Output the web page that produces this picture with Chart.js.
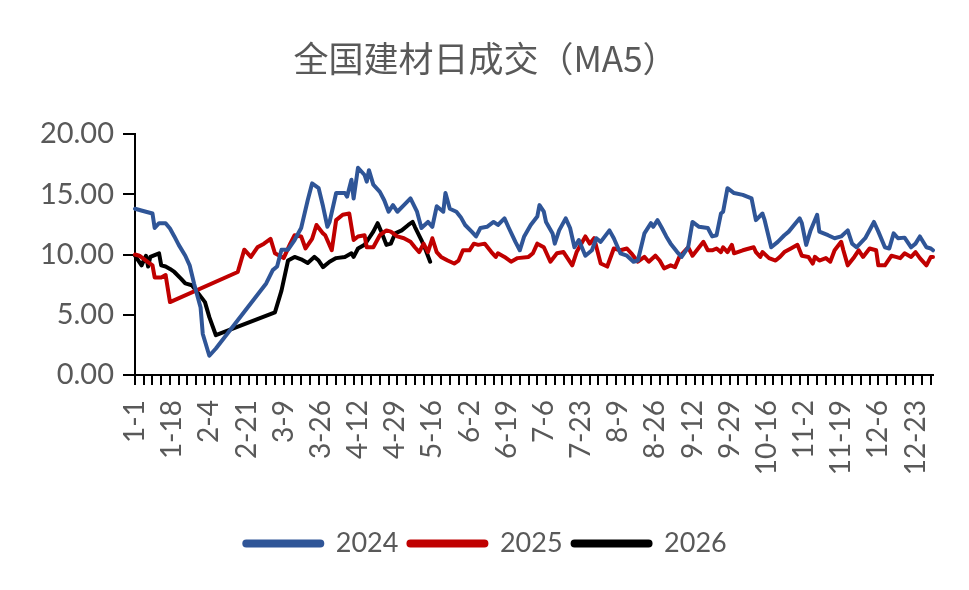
<!DOCTYPE html>
<html>
<head>
<meta charset="utf-8">
<script src="https://cdn.jsdelivr.net/npm/chart.js@4.4.1/dist/chart.umd.min.js"></script>
<style>
  html, body { margin: 0; padding: 0; background: #fff; }
  #wrap { width: 969px; height: 590px; }
</style>
</head>
<body>
<div id="wrap"><canvas id="chart"></canvas></div>
<script>
// categories: every calendar day (leap year), shown as M-D
const monthDays = [31, 29, 31, 30, 31, 30, 31, 31, 30, 31, 30, 31];
const dayLabels = [];
monthDays.forEach((n, m) => {
  for (let d = 1; d <= n; d++) dayLabels.push((m + 1) + '-' + d);
});

const yTicks = [0, 5, 10, 15, 20];

// day index (0 = 1-1) and MA5 value
const days2024 = [0, 5, 8, 9, 11, 14, 16, 18, 20, 23, 25, 27, 30, 31, 34, 37, 60, 63, 65, 67, 70, 73, 76,
  79, 81, 84, 86, 88, 89, 92, 96, 97, 99, 100, 102, 105, 106, 107, 109, 112, 114, 116, 118, 120, 123, 126,
  129, 131, 134, 136, 138, 141, 142, 144, 147, 149, 151, 154, 156, 158, 161, 164, 166, 169, 171, 174, 176,
  178, 181, 184, 185, 187, 188, 191, 192, 194, 197, 199, 201, 203, 206, 209, 211, 213, 217, 219, 222, 225,
  228, 230, 233, 236, 237, 239, 241, 243, 245, 248, 250, 253, 255, 258, 262, 264, 266, 268, 269, 271, 274,
  278, 282, 284, 287, 288, 291, 294, 297, 299, 304, 305, 307, 309, 312, 313, 317, 320, 323, 326, 328, 330,
  334, 338, 340, 343, 345, 347, 349, 352, 355, 357, 359, 362, 364, 365];
const vals2024 = [13.8, 13.55, 13.4, 12.2, 12.6, 12.6, 12.15, 11.5, 10.8, 9.9, 9.1, 7.6, 5.6, 3.4, 1.6, 2.2, 7.6, 8.7, 9.0, 10.4, 10.4, 11.2, 12.2,
  14.5, 15.9, 15.5, 14.0, 12.3, 12.7, 15.1, 15.1, 14.8, 16.2, 14.65, 17.2, 16.6, 16.05, 17.0, 15.8, 15.2, 14.5, 13.55, 14.1, 13.55, 14.1, 14.65,
  13.55, 12.2, 12.7, 12.3, 14.0, 13.55, 15.1, 13.8, 13.55, 13.1, 12.45, 11.9, 11.5, 12.2, 12.3, 12.7, 12.45, 13.0, 12.2, 11.05, 10.35,
  11.5, 12.45, 13.15, 14.1, 13.55, 12.7, 11.75, 10.9, 12.0, 13.0, 12.2, 10.6, 11.2, 9.9, 10.35, 11.35, 11.05, 12.0, 11.35, 10.1, 9.9,
  9.4, 9.5, 11.75, 12.6, 12.3, 12.85, 12.2, 11.5, 10.9, 10.2, 9.8, 10.6, 12.7, 12.3, 12.2, 11.5, 11.6, 13.4, 13.55, 15.5, 15.1,
  14.95, 14.65, 12.85, 13.4, 12.85, 10.6, 11.05, 11.6, 11.9, 13.0, 12.6, 10.8, 12.0, 13.3, 11.9, 11.6, 11.35, 11.5, 12.0, 10.9, 10.6,
  11.35, 12.7, 11.9, 10.6, 10.5, 11.75, 11.35, 11.4, 10.6, 10.9, 11.5, 10.6, 10.5, 10.35];

const days2025 = [0, 2, 5, 8, 9, 12, 14, 16, 47, 50, 53, 56, 59, 62, 64, 68, 71, 73, 76, 78, 81, 83, 86, 87,
  90, 92, 95, 98, 100, 102, 105, 106, 109, 112, 115, 117, 120, 123, 126, 128, 130, 132, 134, 136, 138, 140,
  143, 146, 148, 150, 153, 155, 157, 160, 163, 165, 166, 169, 172, 175, 180, 182, 184, 187, 190, 193, 196,
  200, 202, 206, 208, 210, 213, 216, 219, 222, 225, 227, 230, 233, 235, 238, 240, 242, 245, 247, 249, 253,
  255, 260, 262, 264, 266, 268, 269, 271, 273, 274, 278, 283, 284, 286, 287, 290, 293, 295, 297, 300, 303,
  305, 308, 310, 311, 313, 316, 318, 320, 323, 324, 326, 329, 331, 333, 336, 339, 340, 343, 346, 348, 350,
  352, 355, 357, 359, 362, 364, 365];
const vals2025 = [10.0, 9.9, 9.5, 9.1, 8.1, 8.1, 8.3, 6.05, 8.55, 10.4, 9.8, 10.6, 10.9, 11.3, 10.1, 9.7, 10.9, 11.6, 11.5, 10.5, 11.3, 12.45, 11.75, 11.6,
  10.35, 12.85, 13.3, 13.4, 11.2, 11.5, 11.6, 10.6, 10.6, 11.6, 12.0, 11.9, 11.5, 11.35, 11.05, 10.6, 10.2, 10.9, 10.2, 11.35, 10.2, 9.8,
  9.5, 9.25, 9.5, 10.35, 10.35, 10.9, 10.8, 10.9, 10.2, 9.8, 10.1, 9.8, 9.4, 9.7, 9.8, 10.1, 10.9, 10.6, 9.4, 10.1, 10.2,
  9.1, 10.2, 11.5, 10.9, 11.35, 9.25, 9.0, 10.5, 10.35, 10.5, 10.1, 9.4, 9.8, 9.4, 9.9, 9.5, 8.85, 9.1, 8.95, 9.8, 10.6,
  9.9, 11.05, 10.35, 10.35, 10.5, 10.2, 10.6, 10.2, 10.8, 10.1, 10.35, 10.6, 10.2, 9.8, 10.2, 9.7, 9.5, 9.8, 10.2, 10.5, 10.8,
  9.9, 9.8, 9.25, 9.8, 9.5, 9.7, 9.4, 10.35, 11.05, 10.35, 9.1, 9.8, 10.35, 9.8, 10.5, 10.35, 9.1, 9.1, 9.9, 9.8, 9.7,
  10.1, 9.8, 10.2, 9.7, 9.1, 9.8, 9.8];

const days2026 = [0, 3, 5, 6, 7, 11, 12, 14, 16, 18, 21, 23, 26, 28, 32, 34, 37, 64, 67, 70, 73, 76, 79, 82,
  84, 86, 89, 92, 96, 99, 100, 102, 105, 107, 109, 111, 113, 115, 117, 119, 122, 125, 127, 128, 131, 133, 135];
const vals2026 = [9.9, 9.1, 9.9, 9.0, 9.8, 10.1, 9.1, 9.0, 8.8, 8.55, 8.0, 7.6, 7.45, 7.0, 6.05, 4.8, 3.3, 5.2, 7.0, 9.5, 9.8, 9.6, 9.3, 9.8,
  9.5, 8.95, 9.4, 9.7, 9.8, 10.1, 9.8, 10.5, 10.8, 11.35, 11.9, 12.6, 11.75, 10.8, 10.9, 11.75, 12.0, 12.45, 12.7, 12.3, 11.2, 10.35, 9.4];

function toSeries(days, vals) {
  const arr = new Array(dayLabels.length).fill(null);
  days.forEach((d, i) => { arr[d] = vals[i]; });
  return arr;
}

const textColor = '#595959';

function lineSet(label, days, vals, color) {
  return {
    label: label,
    data: toSeries(days, vals),
    borderColor: color,
    backgroundColor: color,
    borderWidth: 4,
    pointRadius: 0,
    tension: 0,
    spanGaps: true,
    borderJoinStyle: 'round',
    borderCapStyle: 'round'
  };
}

new Chart(document.getElementById('chart'), {
  type: 'line',
  data: {
    labels: dayLabels,
    datasets: [
      lineSet('2024', days2024, vals2024, '#2F5597'),
      lineSet('2025', days2025, vals2025, '#C00000'),
      lineSet('2026', days2026, vals2026, '#000000')
    ]
  },
  options: {
    responsive: true,
    maintainAspectRatio: false,
    animation: false,
    layout: { padding: { left: 38, right: 36, top: 0, bottom: 23 } },
    plugins: {
      title: {
        display: true,
        text: '全国建材日成交（MA5）',
        color: textColor,
        font: { family: 'Noto Sans CJK SC', size: 35, weight: 'normal' },
        padding: { top: 38, bottom: 54 }
      },
      legend: {
        position: 'bottom',
        labels: {
          color: textColor,
          font: { family: 'Lato', size: 27 },
          boxWidth: 78,
          boxHeight: 4,
          useBorderRadius: true,
          borderRadius: 2,
          padding: 10
        }
      },
      tooltip: { enabled: false }
    },
    scales: {
      x: {
        offset: false,
        afterFit: (scale) => {
          scale.height = 145;
          scale.paddingLeft = 0;
          scale.paddingRight = 0;
        },
        ticks: {
          autoSkip: false,
          maxRotation: 90,
          minRotation: 90,
          padding: 15,
          color: textColor,
          font: { family: 'Lato', size: 28 },
          callback: (v, i) => (i % 17 === 0 ? dayLabels[i] : '')
        },
        grid: {
          drawOnChartArea: false,
          drawTicks: true,
          tickLength: 10,
          lineWidth: 2,
          color: (ctx) => (ctx.index % 4 === 0 ? '#000' : 'rgba(0,0,0,0)')
        },
        border: { display: true, color: '#000', width: 2 }
      },
      y: {
        min: yTicks[0],
        max: yTicks[yTicks.length - 1],
        afterFit: (scale) => { scale.width = 97; },
        ticks: {
          stepSize: yTicks[1] - yTicks[0],
          padding: 9,
          color: textColor,
          font: { family: 'Lato', size: 29 },
          callback: (v) => v.toFixed(2)
        },
        grid: {
          drawOnChartArea: false,
          drawTicks: true,
          tickLength: 12,
          lineWidth: 2,
          color: '#000'
        },
        border: { display: true, color: '#000', width: 2 }
      }
    }
  }
});
</script>
</body>
</html>
